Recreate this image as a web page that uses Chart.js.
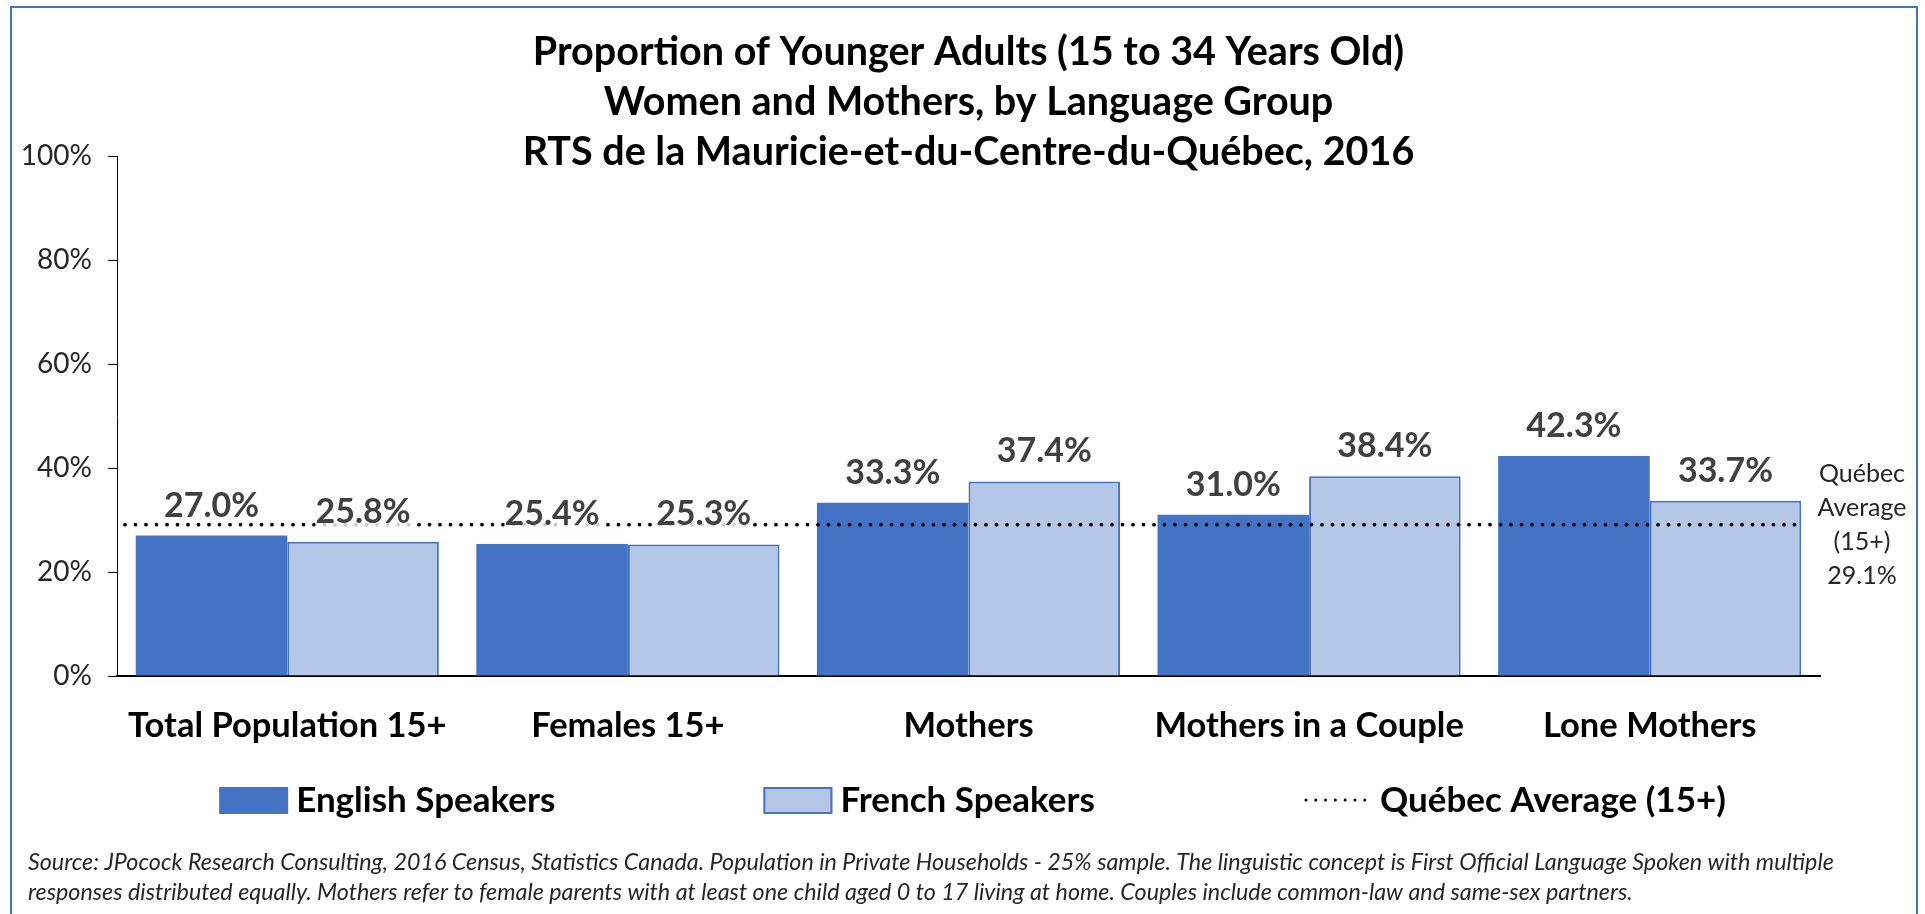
<!DOCTYPE html>
<html>
<head>
<meta charset="utf-8">
<script src="https://cdn.jsdelivr.net/npm/chart.js@4.4.0/dist/chart.umd.min.js"></script>
<style>
  html, body { margin: 0; padding: 0; background: #fff; }
  #wrap { position: relative; width: 1925px; height: 914px; overflow: hidden; }
  #frame { position: absolute; left: 10px; top: 6px; width: 1904px; height: 1000px; border: 2.5px solid #4472C4; pointer-events: none; }
  canvas { position: absolute; left: 0; top: 0; }
</style>
</head>
<body>
<div id="wrap">
  <canvas id="chart" width="1925" height="914"></canvas>
  <div id="frame"></div>
</div>
<script>
// Data
const categories = ['Total Population 15+', 'Females 15+', 'Mothers', 'Mothers in a Couple', 'Lone Mothers'];
const englishValues = [27.0, 25.4, 33.3, 31.0, 42.3];
const frenchValues = [25.8, 25.3, 37.4, 38.4, 33.7];
const quebecAverage = 29.1;
const yTicks = [0, 20, 40, 60, 80, 100];
const titleLines = [
  'Proportion of Younger Adults (15 to 34 Years Old)',
  'Women and Mothers, by Language Group',
  'RTS de la Mauricie-et-du-Centre-du-Québec, 2016'
];
const avgNote = ['Québec', 'Average', '(15+)', quebecAverage.toFixed(1) + '%'];
const footnote = [
  'Source: JPocock Research Consulting, 2016 Census, Statistics Canada. Population in Private Households - 25% sample. The linguistic concept is First Official Language Spoken with multiple',
  'responses distributed equally. Mothers refer to female parents with at least one child aged 0 to 17 living at home. Couples include common-law and same-sex partners.'
];

const FONT = 'Lato, "Open Sans", sans-serif';
const DARK = '#4472C4';
const LIGHT = '#B4C7E7';

// Trait pointillé de la moyenne, étiquettes de valeurs, note à droite, légende, source
const overlay = {
  id: 'overlay',
  afterDatasetsDraw(chart) {
    const ctx = chart.ctx;
    const y = chart.scales.y.getPixelForValue(quebecAverage);
    const lastMeta = chart.getDatasetMeta(1);
    const lastBar = lastMeta.data[lastMeta.data.length - 1];
    const xEnd = lastBar.x + lastBar.width / 2;

    ctx.save();
    ctx.strokeStyle = '#000';
    ctx.lineWidth = 3.8;
    ctx.lineCap = 'round';
    ctx.setLineDash([0, 10.5]);
    ctx.beginPath();
    ctx.moveTo(chart.chartArea.left + 8, y);
    ctx.lineTo(xEnd, y);
    ctx.stroke();
    ctx.restore();

    // étiquettes au-dessus des barres
    ctx.save();
    ctx.font = 'bold 34px ' + FONT;
    ctx.textAlign = 'center';
    ctx.textBaseline = 'middle';
    [0, 1].forEach(di => {
      const meta = chart.getDatasetMeta(di);
      meta.data.forEach((bar, i) => {
        const txt = chart.data.datasets[di].data[i].toFixed(1) + '%';
        const ty = bar.y - 30;
        const w = ctx.measureText(txt).width;
        ctx.fillStyle = 'rgba(255,255,255,0.8)';
        ctx.fillRect(bar.x - w / 2, ty - 15, w, 30);
        ctx.fillStyle = '#404040';
        ctx.fillText(txt, bar.x, ty);
      });
    });
    ctx.restore();
  },
  afterDraw(chart) {
    const ctx = chart.ctx;
    const area = chart.chartArea;
    const y = chart.scales.y.getPixelForValue(quebecAverage);

    // note "Québec Average" à droite
    ctx.save();
    ctx.font = '25px ' + FONT;
    ctx.fillStyle = '#262626';
    ctx.textAlign = 'center';
    ctx.textBaseline = 'middle';
    avgNote.forEach((t, i) => {
      ctx.fillText(t, 1862, y + (i - 1.5) * 34);
    });
    ctx.restore();

    // légende
    ctx.save();
    ctx.font = 'bold 35px ' + FONT;
    ctx.textBaseline = 'middle';
    const ly = 800;
    const gap = 208;
    const items = chart.data.datasets.map(ds => ({
      label: ds.label,
      kind: ds.type === 'line' ? 'line' : 'box',
      fill: ds.backgroundColor,
      stroke: ds.borderColor,
      bw: ds.borderWidth || 0,
      w: ctx.measureText(ds.label).width
    }));
    const symW = 69, symGap = 8;
    let total = 0;
    items.forEach((it, i) => { total += symW + symGap + it.w + (i ? gap : 0); });
    let x = (area.left + area.right) / 2 - total / 2 + 4;
    items.forEach(it => {
      if (it.kind === 'box') {
        ctx.fillStyle = it.fill;
        ctx.fillRect(x, ly - 13, symW, 27);
        if (it.bw) {
          ctx.strokeStyle = it.stroke;
          ctx.lineWidth = 2;
          ctx.strokeRect(x + 1, ly - 12, symW - 2, 25);
        }
      } else {
        ctx.strokeStyle = '#000';
        ctx.lineWidth = 3;
        ctx.lineCap = 'round';
        ctx.setLineDash([0, 9.8]);
        ctx.beginPath();
        ctx.moveTo(x + 3, ly);
        ctx.lineTo(x + symW - 2, ly);
        ctx.stroke();
        ctx.setLineDash([]);
      }
      ctx.fillStyle = '#000';
      ctx.textAlign = 'left';
      ctx.fillText(it.label, x + symW + symGap, ly + 1);
      x += symW + symGap + it.w + gap;
    });
    ctx.restore();

    // source
    ctx.save();
    ctx.font = 'italic 23.3px ' + FONT;
    ctx.fillStyle = '#262626';
    ctx.textBaseline = 'middle';
    ctx.textAlign = 'left';
    footnote.forEach((t, i) => ctx.fillText(t, 28, 862 + i * 30));
    ctx.restore();
  }
};

const ctx = document.getElementById('chart').getContext('2d');
new Chart(ctx, {
  type: 'bar',
  data: {
    labels: categories,
    datasets: [
      {
        label: 'English Speakers',
        data: englishValues,
        backgroundColor: DARK,
        borderColor: DARK,
        borderWidth: 0
      },
      {
        label: 'French Speakers',
        data: frenchValues,
        backgroundColor: LIGHT,
        borderColor: DARK,
        borderWidth: 2
      },
      {
        type: 'line',
        label: 'Québec Average (15+)',
        data: categories.map(() => null),
        borderColor: '#000',
        borderDash: [2, 6],
        pointRadius: 0
      }
    ]
  },
  options: {
    responsive: false,
    animation: false,
    devicePixelRatio: 1,
    layout: { padding: { left: 0, right: 105, top: 0, bottom: 158 } },
    datasets: { bar: { categoryPercentage: 0.89, barPercentage: 1.0 } },
    plugins: {
      legend: { display: false },
      tooltip: { enabled: false },
      title: {
        display: true,
        fullSize: false,
        text: titleLines,
        color: '#000',
        font: { family: FONT, size: 39.5, weight: 'bold', lineHeight: 1.266 },
        padding: { top: 27, bottom: -21 }
      }
    },
    scales: {
      x: {
        grid: { display: false, drawTicks: false },
        border: { display: true, color: '#000', width: 2 },
        ticks: {
          color: '#000',
          padding: 29,
          font: { family: FONT, size: 34.5, weight: 'bold' }
        },
        afterFit: s => { s.height = 80; }
      },
      y: {
        min: 0,
        max: 100,
        afterBuildTicks: s => { s.ticks = yTicks.map(v => ({ value: v })); },
        grid: { drawOnChartArea: false, drawTicks: true, tickLength: 9, color: '#000', tickColor: '#000' },
        border: { display: true, color: '#000', width: 1 },
        ticks: {
          color: '#262626',
          padding: 16,
          font: { family: FONT, size: 28 },
          callback: v => v + '%'
        },
        afterFit: s => { s.width = 117; }
      }
    }
  },
  plugins: [overlay]
});
</script>
</body>
</html>
